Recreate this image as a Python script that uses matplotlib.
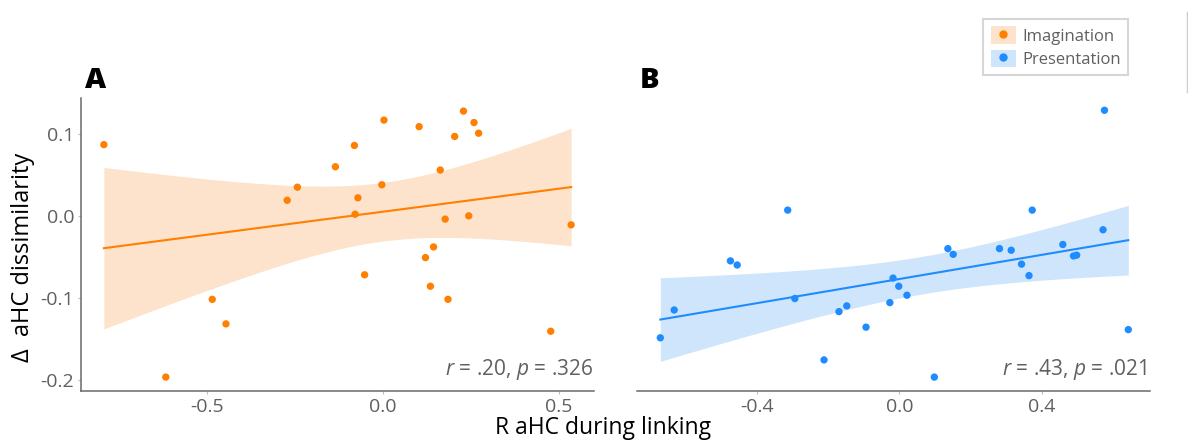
import numpy as np
import matplotlib
matplotlib.use("Agg")
import matplotlib.pyplot as plt
from matplotlib.patches import Patch
from matplotlib.lines import Line2D

# ---- data ----
imag_x = [-0.794, -0.618, -0.486, -0.447, -0.273, -0.244, -0.136, -0.082, -0.072, -0.080,
          -0.053, -0.004, 0.002, 0.102, 0.120, 0.134, 0.143, 0.162, 0.176, 0.184,
          0.203, 0.228, 0.243, 0.258, 0.271, 0.476, 0.534]
imag_y = [0.087, -0.197, -0.102, -0.132, 0.019, 0.035, 0.060, 0.086, 0.022, 0.002,
          -0.072, 0.038, 0.117, 0.109, -0.051, -0.086, -0.038, 0.056, -0.004, -0.102,
          0.097, 0.128, 0.000, 0.114, 0.101, -0.141, -0.011]
pres_x = [-0.672, -0.633, -0.475, -0.456, -0.314, -0.294, -0.212, -0.170, -0.148, -0.094,
          -0.027, -0.018, -0.002, 0.021, 0.098, 0.136, 0.151, 0.281, 0.314, 0.343,
          0.364, 0.373, 0.459, 0.489, 0.498, 0.572, 0.576, 0.643]
pres_y = [-0.149, -0.115, -0.055, -0.060, 0.007, -0.101, -0.176, -0.117, -0.110, -0.136,
          -0.106, -0.076, -0.086, -0.097, -0.197, -0.040, -0.047, -0.040, -0.042, -0.059,
          -0.073, 0.007, -0.035, -0.049, -0.048, -0.017, 0.129, -0.139]
stats_text = [r"$\it{r}$ = .20, $\it{p}$ = .326", r"$\it{r}$ = .43, $\it{p}$ = .021"]
panel_labels = ["A", "B"]
series_names = ["Imagination", "Presentation"]
xticks_A = [-0.5, 0.0, 0.5]
xticks_B = [-0.4, 0.0, 0.4]
yticks = [-0.2, -0.1, 0.0, 0.1]

plt.rcParams['font.family'] = ['Open Sans', 'DejaVu Sans']
plt.rcParams['mathtext.fontset'] = 'custom'
plt.rcParams['mathtext.it'] = 'Open Sans:italic'
plt.rcParams['mathtext.rm'] = 'Open Sans'

colors = ["#FF7F00", "#1E8CFF"]
bands = ["#FDE3CB", "#CFE5FB"]
tick_col = "#606060"
spine_col = "#6a6a6a"

W, H = 1188, 441
fig = plt.figure(figsize=(W / 100, H / 100), dpi=100)

def fx(px):
    return px / W

def fy(py):
    return 1 - py / H

def ax_at(l, t, r, b):
    return fig.add_axes([fx(l), fy(b), (r - l) / W, (b - t) / H])

axA = ax_at(81, 98, 594, 391)
axB = ax_at(637, 98, 1150, 391)

def panel(ax, x, y, col, band, tcrit, xlim, xticks, show_y):
    x = np.asarray(x); y = np.asarray(y)
    n = len(x)
    b1, b0 = np.polyfit(x, y, 1)
    xs = np.linspace(x.min(), x.max(), 200)
    ys = b0 + b1 * xs
    resid = y - (b0 + b1 * x)
    s = np.sqrt(np.sum(resid ** 2) / (n - 2))
    sxx = np.sum((x - x.mean()) ** 2)
    se = s * np.sqrt(1 / n + (xs - x.mean()) ** 2 / sxx)
    ax.fill_between(xs, ys - tcrit * se, ys + tcrit * se, color=band, lw=0, zorder=1)
    ax.plot(xs, ys, color=col, lw=1.5, zorder=2)
    ax.scatter(x, y, s=28, color=col, edgecolor='none', zorder=3)
    ax.set_xlim(*xlim)
    ax.set_ylim(-0.214, 0.144)
    ax.set_xticks(xticks)
    ax.set_xticklabels([f"{v:.1f}" for v in xticks])
    for sp in ["top", "right"]:
        ax.spines[sp].set_visible(False)
    ax.spines["bottom"].set_color(spine_col)
    ax.spines["bottom"].set_linewidth(1.1)
    if show_y:
        ax.set_yticks(yticks)
        ax.set_yticklabels([f"{v:.1f}" for v in yticks])
        ax.spines["left"].set_color(spine_col)
        ax.spines["left"].set_linewidth(1.1)
    else:
        ax.spines["left"].set_visible(False)
        ax.set_yticks([])
    ax.tick_params(axis='both', length=2, width=0.8, color="#bbbbbb", pad=3,
                   labelsize=14, labelcolor=tick_col)
    ax.set_facecolor('none')

panel(axA, imag_x, imag_y, colors[0], bands[0], 2.060, (-0.859, 0.599), xticks_A, True)
panel(axB, pres_x, pres_y, colors[1], bands[1], 2.056, (-0.7375, 0.704), xticks_B, False)

fig.text(fx(593), fy(375), stats_text[0], ha='right', va='baseline', fontsize=15, color=tick_col)
fig.text(fx(1147), fy(375), stats_text[1], ha='right', va='baseline', fontsize=15, color=tick_col)

fig.text(fx(85), fy(88), panel_labels[0], fontsize=21, fontweight='heavy', va='baseline', ha='left')
fig.text(fx(640), fy(88), panel_labels[1], fontsize=21, fontweight='heavy', va='baseline', ha='left')

fig.text(fx(23), fy(257), "Δ  aHC dissimilarity", fontsize=17, rotation=90,
         ha='center', va='center', color='black')
fig.text(fx(603), fy(434.5), "R aHC during linking", fontsize=16.5, ha='center', va='baseline',
         color='black')

handles = [(Patch(facecolor=bands[i], edgecolor='none'),
            Line2D([], [], marker='o', ls='none', color=colors[i], markersize=5))
           for i in range(2)]
leg = fig.legend(handles, series_names, loc='upper left', bbox_to_anchor=(fx(983), fy(19)),
                 frameon=True, fontsize=12, handlelength=1.5, handleheight=1.2,
                 handletextpad=0.4, labelspacing=0.3, borderpad=0.45, fancybox=False,
                 borderaxespad=0)
leg.get_frame().set_edgecolor('#cccccc')
leg.get_frame().set_linewidth(1.5)
for t in leg.get_texts():
    t.set_color(tick_col)

fig.add_artist(Line2D([fx(1187.3), fx(1187.3)], [fy(12), fy(92)], color='#cccccc', lw=1))

fig.savefig("out.png", dpi=100, facecolor='white')
